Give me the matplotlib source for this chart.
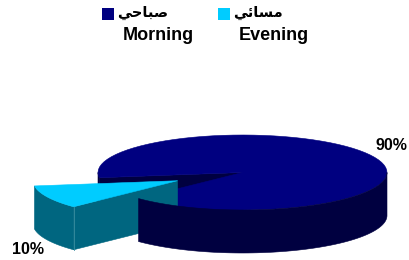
import numpy as np
import matplotlib.pyplot as plt
from matplotlib.patches import Polygon, Rectangle

# data
labels_ar = ['صباحي', 'مسائي']
labels_en = ['Morning', 'Evening']
values = [90, 10]
pct_labels = ['90%', '10%']

top_colors = ['#000080', '#00ccff']
side_colors = ['#000040', '#006680']

# tiny arabic shaper (matplotlib has no complex text layout)
FORMS = {  # iso, fin, init, med
    'ص': '\uFEB9\uFEBA\uFEBB\uFEBC',
    'ب': '\uFE8F\uFE90\uFE91\uFE92',
    'ا': '\uFE8D\uFE8E',
    'ح': '\uFEA1\uFEA2\uFEA3\uFEA4',
    'ي': '\uFEF1\uFEF2\uFEF3\uFEF4',
    'م': '\uFEE1\uFEE2\uFEE3\uFEE4',
    'س': '\uFEB1\uFEB2\uFEB3\uFEB4',
    'ئ': '\uFE89\uFE8A\uFE8B\uFE8C',
}


def shape(word):
    out = []
    for i, ch in enumerate(word):
        f = FORMS.get(ch)
        if f is None:
            out.append(ch)
            continue
        prev = word[i - 1] if i > 0 else None
        nxt = word[i + 1] if i + 1 < len(word) else None
        join_prev = prev in FORMS and len(FORMS[prev]) == 4
        join_next = len(f) == 4 and nxt in FORMS
        if join_prev and join_next:
            out.append(f[3])
        elif join_prev:
            out.append(f[1])
        elif join_next:
            out.append(f[2])
        else:
            out.append(f[0])
    return ''.join(reversed(out))


# geometry in pixels
cx, cy = 242.5, 172.5
rx, ry = 144.5, 37.5
depth = 43
start = 188.0
explode = [0.0, 0.5]


def pt(a, ox, oy, dz=0):
    t = np.radians(a)
    return ox + rx * np.cos(t), oy - ry * np.sin(t) + dz


def arc(a0, a1, ox, oy, dz=0):
    ts = np.linspace(a0, a1, 80)
    return [pt(t, ox, oy, dz) for t in ts]


fig = plt.figure(figsize=(4.09, 2.6), dpi=100)
ax = fig.add_axes([0, 0, 1, 1])
ax.set_xlim(0, 409)
ax.set_ylim(260, 0)
ax.axis('off')

total = sum(values)
# evening slice first from start, then morning
spans = {}
a = start
for i in [1, 0]:
    s = 360.0 * values[i] / total
    spans[i] = (a, a + s)
    a += s


def offset(i):
    a0, a1 = spans[i]
    m = np.radians((a0 + a1) / 2)
    return cx + explode[i] * rx * np.cos(m), cy - explode[i] * ry * np.sin(m)


def poly(pts, c):
    ax.add_patch(Polygon(pts, closed=True, fc=c, ec=c, lw=0.4))


# main slice (morning)
m0, m1 = spans[0]
ox, oy = offset(0)
end = pt(m1, ox, oy)
# radial face at end angle (faces viewer)
poly([(ox, oy), end, (end[0], end[1] + depth), (ox, oy + depth)], side_colors[0])
# small wall sliver on the left
poly(arc(540, m1, ox, oy) + arc(m1, 540, ox, oy, depth), side_colors[0])
poly([(ox, oy)] + arc(m0, m1, ox, oy), top_colors[0])

# evening slice
e0, e1 = spans[1]
ex, ey = offset(1)
poly(arc(e0, e1, ex, ey) + arc(e1, e0, ex, ey, depth), side_colors[1])
p1 = pt(e1, ex, ey)
poly([(ex, ey), p1, (p1[0], p1[1] + depth), (ex, ey + depth)], side_colors[1])
ax.plot([p1[0], p1[0]], [p1[1], p1[1] + depth], color='#3a8ea0', lw=0.6)
poly([(ex, ey)] + arc(e0, e1, ex, ey), top_colors[1])

# main front wall
poly(arc(m0, 360, ox, oy) + arc(360, m0, ox, oy, depth), side_colors[0])

# percentage labels
txt = dict(fontsize=11.5, fontweight='bold', family='Liberation Sans', color='black')
ax.text(375, 146, pct_labels[0], ha='left', va='center', **txt)
ax.text(12, 249, pct_labels[1], ha='left', va='center', **txt)

# legend
sq_x = [102, 218]
for i in range(2):
    ax.add_patch(Rectangle((sq_x[i], 8), 12, 12, fc=top_colors[i], ec='none'))
    ax.text(sq_x[i] + 15, 12, shape(labels_ar[i]), ha='left', va='center',
            fontsize=10.5, fontweight='bold', family=['DejaVu Sans'])
    ax.text(sq_x[i] + 21, 35, labels_en[i], ha='left', va='center',
            fontsize=13, fontweight='bold', family='Liberation Sans')

fig.savefig('out.png', dpi=100)
